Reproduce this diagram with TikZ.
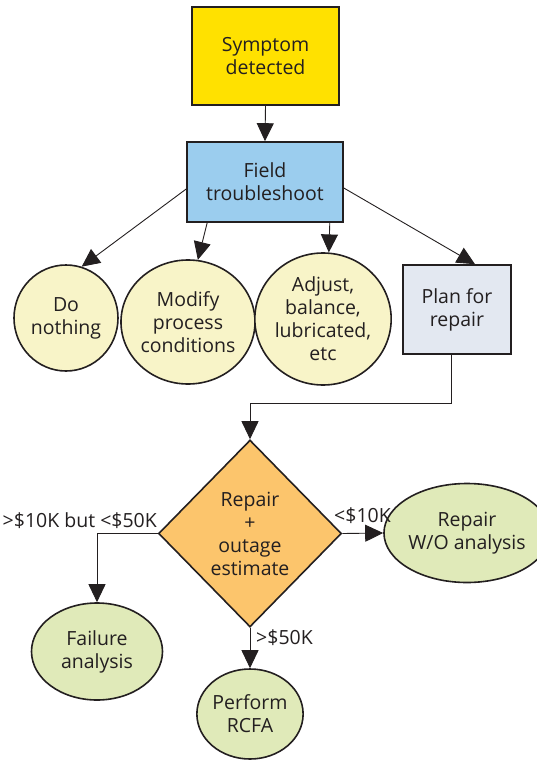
\documentclass[tikz,border=0pt]{standalone}
\usepackage{fontspec}
\setmainfont{Open Sans}
\usetikzlibrary{shapes.geometric,arrows.meta}

\definecolor{symfill}{HTML}{FFE100}
\definecolor{fieldfill}{HTML}{9BCDEE}
\definecolor{roundfill}{HTML}{F8F4C8}
\definecolor{planfill}{HTML}{E3E8F1}
\definecolor{decfill}{HTML}{FCC56C}
\definecolor{endfill}{HTML}{E0EAB9}
\definecolor{ink}{HTML}{231F20}

\tikzset{
  txt/.style={font=\fontsize{19.5}{23}\selectfont, align=center, text=ink},
  boxnode/.style={txt, draw=ink, line width=1.6pt, rectangle, inner sep=0pt},
  roundnode/.style={txt, draw=ink, line width=1.6pt, ellipse, inner sep=0pt, fill=roundfill},
  endnode/.style={txt, draw=ink, line width=1.6pt, ellipse, inner sep=0pt, fill=endfill},
  arr/.style={draw=ink, line width=0.9pt, -{Triangle[length=18pt,width=17pt]}},
  cond/.style={txt, inner sep=0pt}
}

\begin{document}
\begin{tikzpicture}[x=1pt,y=-1pt]
  \useasboundingbox (0,0) rectangle (537,762);

  % top of the flow
  \node[boxnode, fill=symfill, minimum width=147pt, minimum height=98pt]
    (sym) at (265.5,56) {Symptom\\detected};
  \node[boxnode, fill=fieldfill, minimum width=156pt, minimum height=80pt]
    (field) at (265,182) {Field\\troubleshoot};

  % outcomes of troubleshooting
  \node[roundnode, minimum width=104pt, minimum height=106pt]
    (dn) at (66,318) {Do\\nothing};
  \node[roundnode, minimum width=122pt, minimum height=124pt]
    (md) at (188,322) {Modify\\process\\conditions};
  \node[roundnode, minimum width=129pt, minimum height=132pt]
    (aj) at (323,319) {Adjust,\\balance,\\lubricated,\\etc};
  \node[boxnode, fill=planfill, minimum width=108pt, minimum height=89pt]
    (pl) at (457,309.5) {Plan for\\repair};

  % cost decision
  \node[txt, draw=ink, line width=1.6pt, diamond, fill=decfill, inner sep=0pt,
        minimum width=183pt, minimum height=187pt]
    (dec) at (250,533.5) {Repair\\+\\outage\\estimate};

  \node[endnode, minimum width=144pt, minimum height=99pt]
    (rwo) at (467,533) {Repair\\W/O analysis};
  \node[endnode, minimum width=131pt, minimum height=97pt]
    (fail) at (97,651.5) {Failure\\analysis};
  \node[endnode, minimum width=97pt, minimum height=90pt]
    (rcfa) at (250,714) {Perform\\RCFA};

  % condition labels
  \node[cond, anchor=east] (lmid) at (157,521) {>\$10K but <\$50K};
  \node[cond, anchor=west] (llow) at (334,516) {<\$10K};
  \node[cond, anchor=west] (lhigh) at (256,638) {>\$50K};

  % connectors
  \draw[arr] (sym.south) -- (field.north);
  \draw[arr] ([yshift=-7pt]field.west) -- (dn.73);
  \draw[arr] ([xshift=21pt]field.south west) -- (md.81);
  \draw[arr] ([xshift=-14pt]field.south east) -- (aj.85);
  \draw[arr] ([yshift=-6pt]field.east) -- ([xshift=18pt]pl.north);

  \draw[arr] ([xshift=-6pt]pl.south) -- ++(0,49) -| (dec.north);
  \draw[arr] (dec.west) -| (fail.north);
  \draw[arr] (dec.east) -- (rwo.west);
  \draw[arr] (dec.south) -- (rcfa.north);
\end{tikzpicture}
\end{document}
